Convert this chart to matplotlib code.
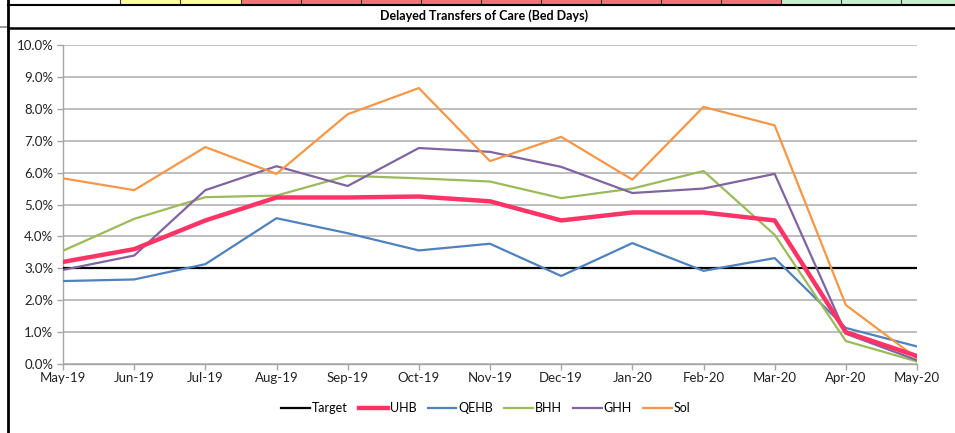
import matplotlib
matplotlib.use('Agg')
import matplotlib.pyplot as plt
from matplotlib.patches import Rectangle
from matplotlib.lines import Line2D
from matplotlib.ticker import PercentFormatter

months = ["May-19", "Jun-19", "Jul-19", "Aug-19", "Sep-19", "Oct-19", "Nov-19",
          "Dec-19", "Jan-20", "Feb-20", "Mar-20", "Apr-20", "May-20"]

target = [3.0] * 13
uhb = [3.2, 3.6, 4.5, 5.22, 5.22, 5.25, 5.1, 4.5, 4.75, 4.75, 4.5, 1.0, 0.25]
qehb = [2.6, 2.65, 3.13, 4.57, 4.1, 3.56, 3.77, 2.76, 3.79, 2.92, 3.32, 1.13, 0.55]
bhh = [3.55, 4.55, 5.23, 5.28, 5.9, 5.82, 5.72, 5.2, 5.5, 6.05, 4.05, 0.72, 0.08]
ghh = [2.95, 3.4, 5.45, 6.2, 5.58, 6.77, 6.65, 6.18, 5.36, 5.5, 5.96, 0.95, 0.12]
sol = [5.82, 5.45, 6.8, 5.96, 7.83, 8.65, 6.36, 7.12, 5.78, 8.06, 7.48, 1.85, 0.18]

W, H = 955, 433
plt.rcParams['font.family'] = ['Lato', 'DejaVu Sans']

fig = plt.figure(figsize=(W / 100, H / 100), dpi=100)
fig.patch.set_facecolor('white')


def fx(x):
    return x / W


def fy(y):
    return 1 - y / H


# spreadsheet cells behind the chart
cells = [(120, 180, '#FFFF99'), (180, 241, '#FFFF99')]
for i in range(9):
    cells.append((241 + i * 60, 301 + i * 60, '#F27474'))
for i in range(3):
    cells.append((781 + i * 60, 841 + i * 60, '#C6EFCE'))
for x0, x1, c in cells:
    fig.add_artist(Rectangle((fx(x0), fy(4)), fx(x1 - x0), 4 / H, transform=fig.transFigure,
                             facecolor=c, edgecolor='none'))
    fig.add_artist(Line2D([fx(x0), fx(x0)], [fy(0), fy(4)], transform=fig.transFigure,
                          color='#333333', lw=0.8))
fig.add_artist(Line2D([fx(8), 1], [fy(4.5), fy(4.5)], transform=fig.transFigure, color='black', lw=1.5))
fig.add_artist(Line2D([fx(8), 1], [fy(27.5), fy(27.5)], transform=fig.transFigure, color='black', lw=1.8))
fig.add_artist(Line2D([0, fx(7)], [fy(26.5), fy(26.5)], transform=fig.transFigure, color='#888888', lw=1.2))
fig.add_artist(Line2D([fx(8), fx(8)], [0, 1], transform=fig.transFigure, color='black', lw=2))
fig.text(fx(484), fy(16), "Delayed Transfers of Care (Bed Days)", ha='center', va='center',
         fontsize=9, fontweight='bold')

ax = fig.add_axes([fx(63), fy(364), fx(917 - 63), (364 - 45) / H])
x = range(len(months))
ax.plot(x, target, color='black', lw=1.6, label='Target', zorder=3)
ax.plot(x, uhb, color='#FF3366', lw=3.2, label='UHB', zorder=4)
ax.plot(x, qehb, color='#4F81BD', lw=1.6, label='QEHB', zorder=3)
ax.plot(x, bhh, color='#9BBB59', lw=1.6, label='BHH', zorder=3)
ax.plot(x, ghh, color='#8064A2', lw=1.6, label='GHH', zorder=3)
ax.plot(x, sol, color='#F79646', lw=1.6, label='Sol', zorder=3)

ax.set_xlim(0, len(months) - 1)
ax.set_ylim(0, 10)
ax.set_yticks([i for i in range(11)])
ax.yaxis.set_major_formatter(PercentFormatter(decimals=1))
ax.set_xticks(list(x))
ax.set_xticklabels(months)
ax.grid(axis='y', color='#B3B3B3', lw=1.2)
ax.set_axisbelow(True)
for s in ['top', 'right']:
    ax.spines[s].set_visible(False)
for s in ['left', 'bottom']:
    ax.spines[s].set_color('#A6A6A6')
    ax.spines[s].set_linewidth(1.0)
ax.tick_params(axis='both', colors='#A6A6A6', labelcolor='#222222', labelsize=9.5, length=4, width=1.0)
ax.tick_params(axis='x', pad=2)
ax.tick_params(axis='y', pad=3)

fig.legend(loc='center', bbox_to_anchor=(fx(486), fy(408)), ncol=6, frameon=False, fontsize=9,
           handlelength=2.3, handletextpad=0.15, columnspacing=0.9)

fig.savefig('out.png', dpi=100)
